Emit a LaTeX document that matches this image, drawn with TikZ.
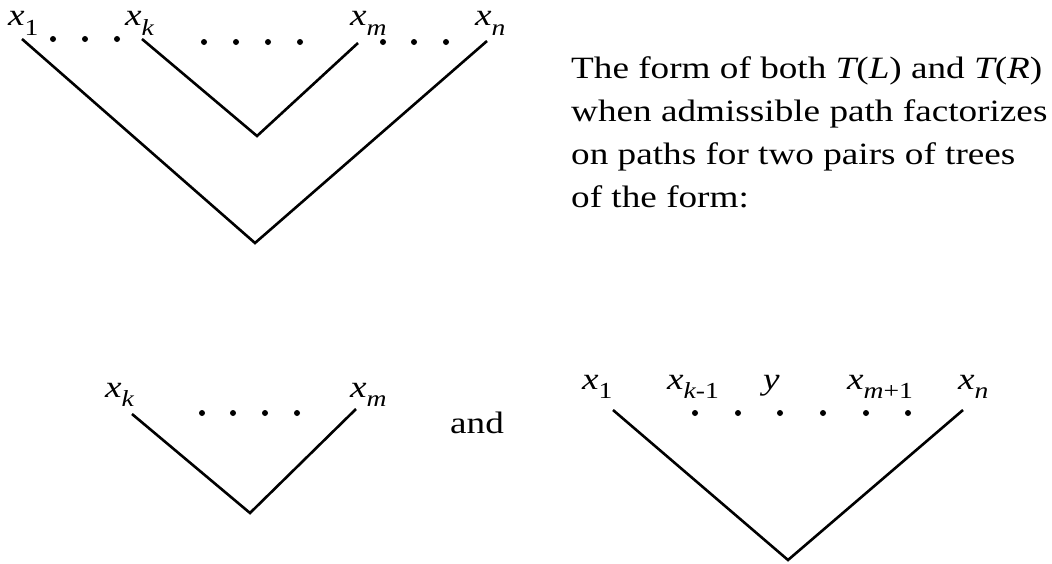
\documentclass[tikz,border=0pt]{standalone}
\usepackage{fontspec}
\setmainfont{Liberation Serif}[FakeStretch=1.2]
\usepackage{tikz}

\newcommand{\leaf}[1]{{\itshape x}\raisebox{-9.5pt}{\fontsize{23}{23}\selectfont #1}}
\newcommand{\ivar}[1]{{\itshape #1}}

\begin{document}
\begin{tikzpicture}[x=1pt,y=-1pt,
	branch/.style={line width=2.6pt},
	lbl/.style={anchor=base west, inner sep=0pt, font=\fontsize{31}{43}\selectfont},
	dotmark/.style={fill=black}]
	\useasboundingbox (0,0) rectangle (1052,563);

	% upper tree
	\coordinate (oL) at (22,39);
	\coordinate (oR) at (487,41);
	\coordinate (oRoot) at (255,243);
	\coordinate (iL) at (142,39);
	\coordinate (iR) at (358,43);
	\coordinate (iRoot) at (257,136);
	\draw[branch] (oL) -- (oRoot) -- (oR);
	\draw[branch] (iL) -- (iRoot) -- (iR);
	\node[lbl] (ux1) at (8,25.7) {\leaf{1}};
	\node[lbl] (uxk) at (125,25.7) {\leaf{\ivar{k}}};
	\node[lbl] (uxm) at (350,25.7) {\leaf{\ivar{m}}};
	\node[lbl] (uxn) at (475,25.7) {\leaf{\ivar{n}}};
	\foreach \px in {53,85,117} \fill[dotmark] (\px,39) circle (3pt);
	\foreach \px in {204,236,268,300,383,414,446} \fill[dotmark] (\px,42) circle (3pt);

	% explanation
	\node[lbl, anchor=north west, align=left] (caption) at (571,56.5)
		{The form of both \ivar{T}(\ivar{L}) and \ivar{T}(\ivar{R})\\
		 when admissible path factorizes\\
		 on paths for two pairs of trees\\
		 of the form:};

	% lower left tree
	\coordinate (aL) at (132,414);
	\coordinate (aR) at (356,409);
	\coordinate (aRoot) at (250,513);
	\draw[branch] (aL) -- (aRoot) -- (aR);
	\node[lbl] (axk) at (105,397) {\leaf{\ivar{k}}};
	\node[lbl] (axm) at (350,397) {\leaf{\ivar{m}}};
	\foreach \px in {202,233,265,297} \fill[dotmark] (\px,413) circle (3pt);

	\node[lbl] (and) at (450,433) {and};

	% lower right tree
	\coordinate (bL) at (613,410);
	\coordinate (bR) at (963,410);
	\coordinate (bRoot) at (788,560);
	\draw[branch] (bL) -- (bRoot) -- (bR);
	\node[lbl] (bx1) at (582,389) {\leaf{1}};
	\node[lbl] (bxk) at (667,389) {\leaf{\ivar{k}-1}};
	\node[lbl] (by) at (763,389) {\ivar{y}};
	\node[lbl] (bxm) at (847,389) {\leaf{\ivar{m}+1}};
	\node[lbl] (bxn) at (958,389) {\leaf{\ivar{n}}};
	\foreach \px in {695,738,780,823,866,908} \fill[dotmark] (\px,413) circle (3pt);
\end{tikzpicture}
\end{document}
